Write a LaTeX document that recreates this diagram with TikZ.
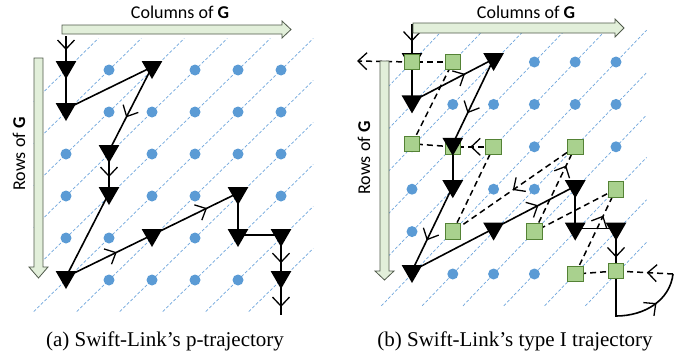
\documentclass[tikz,border=0pt]{standalone}
\usepackage{fontspec}
\setmainfont{Liberation Serif}
\newfontfamily\labfont{Carlito}
\usetikzlibrary{arrows.meta,decorations.markings,shapes.geometric}
\definecolor{dotblue}{RGB}{91,155,213}
\definecolor{lineblue}{RGB}{110,165,220}
\definecolor{sqfill}{RGB}{169,209,142}
\definecolor{sqdraw}{RGB}{84,130,53}
\definecolor{bigfill}{RGB}{226,239,218}
\definecolor{bigdraw}{RGB}{80,90,75}
\pgfdeclarelayer{gridlayer}
\pgfdeclarelayer{connlayer}
\pgfsetlayers{gridlayer,connlayer,main}
\begin{document}
\begin{tikzpicture}[x=1pt,y=-1pt,
  gline/.style={lineblue, line width=0.7pt, dash pattern=on 3pt off 2pt},
  gdot/.style={circle, fill=dotblue, inner sep=0pt, minimum size=11pt},
  tri/.style={regular polygon, regular polygon sides=3, shape border rotate=180, fill=black, inner sep=0pt, minimum size=24pt, yshift=3pt},
  sq/.style={rectangle, draw=sqdraw, fill=sqfill, line width=0.8pt, minimum size=15.5pt, inner sep=0pt},
  solidc/.style={black, line width=1.6pt},
  dashc/.style={black, line width=1.5pt, dash pattern=on 6pt off 4pt},
  barb/.tip={Straight Barb[length=9pt,width=17pt,line width=1.3pt]},
  midarr/.style={postaction={decorate}, decoration={markings, mark=at position #1 with {\arrow{barb}}}},
  bigarrow/.style={fill=bigfill, draw=bigdraw, line width=0.8pt},
  lab/.style={font=\labfont\fontsize{18}{20}\selectfont, inner sep=0pt},
  captext/.style={font=\fontsize{21}{24}\selectfont, inner sep=0pt}
]
\useasboundingbox (0,0) rectangle (694,356);

% grid coordinates
\foreach \c in {0,...,5}{\foreach \r in {0,...,5}{
  \coordinate (L\c\r) at ({66+43*\c},{70+42*\r});
  \coordinate (R\c\r) at ({412+40.8*\c},{62+42.4*\r});}}

% diagonal dashed lines and dots
\begin{pgfonlayer}{gridlayer}
\foreach \k in {0,...,10}{
  \pgfmathsetmacro\ca{max(0,\k-5)}\pgfmathsetmacro\ra{\k-\ca}
  \pgfmathsetmacro\cb{min(5,\k)}\pgfmathsetmacro\rb{\k-\cb}
  \draw[gline] ({66+43*(\ca-0.75)},{70+42*(\ra+0.75)}) -- ({66+43*(\cb+0.75)},{70+42*(\rb-0.75)});
  \draw[gline] ({412+40.8*(\ca-0.75)},{62+42.4*(\ra+0.75)}) -- ({412+40.8*(\cb+0.75)},{62+42.4*(\rb-0.75)});
}
\foreach \p in {10,30,40,50,11,21,31,41,51,02,22,32,42,52,03,23,33,53,04,14,34,15,25,35,45}
  \node[gdot] (Ld\p) at (L\p) {};
\foreach \p in {30,40,50,11,21,31,41,51,02,32,52,03,23,33,04,15,25,35,55}
  \node[gdot] (Rd\p) at (R\p) {};
\end{pgfonlayer}

% big arrows
\draw[bigarrow] (62,25) -- (282,25) -- (282,21) -- (291,29.5) -- (282,38) -- (282,34) -- (62,34) -- cycle;
\draw[bigarrow] (34,58) -- (34,267) -- (29,267) -- (38.5,278) -- (48,267) -- (43,267) -- (43,58) -- cycle;
\draw[bigarrow] (413,23) -- (615,23) -- (615,19) -- (624,28) -- (615,37) -- (615,33) -- (413,33) -- cycle;
\draw[bigarrow] (380,61) -- (380,271) -- (375,271) -- (384.5,280) -- (394,271) -- (389,271) -- (389,61) -- cycle;

% labels
\node[lab, anchor=base] (lcolL) at (180,18) {Columns of \textbf{G}};
\node[lab, anchor=base] (lcolR) at (526,18) {Columns of \textbf{G}};
\node[lab, rotate=90] (lrowL) at (19,154) {Rows of \textbf{G}};
\node[lab, rotate=90] (lrowR) at (364,158) {Rows of \textbf{G}};
\node[captext, anchor=base] (capA) at (165,346) {(a) Swift-Link’s p-trajectory};
\node[captext, anchor=base] (capB) at (515,346) {(b) Swift-Link’s type I trajectory};

% left panel nodes
\foreach \p in {00,01,20,12,13,05,24,43,44,54,55}
  \node[tri] (LT\p) at (L\p) {};
\coordinate (Lin) at (66,36);
\coordinate (Lout) at (281,315);

% right panel nodes
\foreach \p in {00,01,20,13,05,24,43,44,54}
  \node[tri] (RT\p) at (R\p) {};
\foreach \p in {00,10,12,22,42,53,14,34,45}
  \node[sq] (RS\p) at (R\p) {};
\node[sq, yshift=3pt] (RS02) at (R02) {};
\node[sq, yshift=3pt] (RS55) at (R55) {};
\node[tri] (RT12) at (R12) {};
\coordinate (Rin) at (412,24);
\coordinate (Rexl) at (357,61);
\coordinate (Rbot) at (616,316);
\coordinate (Rexr) at (673,274);

\begin{pgfonlayer}{connlayer}
% left trajectory
\draw[solidc, midarr=0.45] (Lin) -- (LT00.center);
\draw[solidc] (LT00.center) -- (LT01.center);
\draw[solidc] (LT01.center) -- (LT20.center);
\draw[solidc, midarr=0.6] (LT20.center) -- (LT12.center);
\draw[solidc, midarr=0.62] (LT12.center) -- (LT13.center);
\draw[solidc] (LT13.center) -- (LT05.center);
\draw[solidc, midarr=0.59] (LT05.center) -- (LT24.center);
\draw[solidc, midarr=0.64] (LT24.center) -- (LT43.center);
\draw[solidc] (LT43.center) -- (LT44.center);
\draw[solidc] (LT44.center) -- (LT54.center);
\draw[solidc, midarr=0.67] (LT54.center) -- (LT55.center);
\draw[solidc, midarr=0.79] (LT55.center) -- (Lout);
% right trajectory (solid)
\draw[solidc, midarr=0.5] (Rin) -- (RT00.center);
\draw[solidc] (RT00.center) -- (RT01.center);
\draw[solidc, midarr=0.65] (RT01.center) -- (RT20.center);
\draw[solidc, midarr=0.64] (RT20.center) -- (RT12.center);
\draw[solidc] (RT12.center) -- (RT13.center);
\draw[solidc, midarr=0.64] (RT13.center) -- (RT05.center);
\draw[solidc] (RT05.center) -- (RT24.center);
\draw[solidc, midarr=0.55] (RT24.center) -- (RT43.center);
\draw[solidc] (RT43.center) -- (RT44.center);
\draw[solidc] (RT44.center) -- (RT54.center);
\draw[solidc, midarr=0.68] (RT54.center) -- (RS55.center);
\draw[solidc, midarr=0.72] (RS55.center) -- (Rbot) .. controls (645,316) and (670,300) .. (Rexr);
% right trajectory (dashed)
\draw[dashc, midarr=0.46] (Rexr) -- (RS55.center);
\draw[dashc] (RS55.center) -- (RS45.center);
\draw[dashc, midarr=0.69] (RS45.center) -- (RS53.center);
\draw[dashc] (RS53.center) -- (RS34.center);
\draw[dashc, midarr=0.78] (RS34.center) -- (RS42.center);
\draw[dashc, midarr=0.51] (RS42.center) -- (RS14.center);
\draw[dashc] (RS14.center) -- (RS22.center);
\draw[dashc, midarr=0.57] (RS22.center) -- (RS12.center);
\draw[dashc] (RS12.center) -- (RS02.center);
\draw[dashc] (RS02.center) -- (RS10.center);
\draw[dashc] (RS10.center) -- (RS00.center);
\draw[dashc, -barb] (RS00.center) -- (Rexl);
\end{pgfonlayer}
\end{tikzpicture}
\end{document}
